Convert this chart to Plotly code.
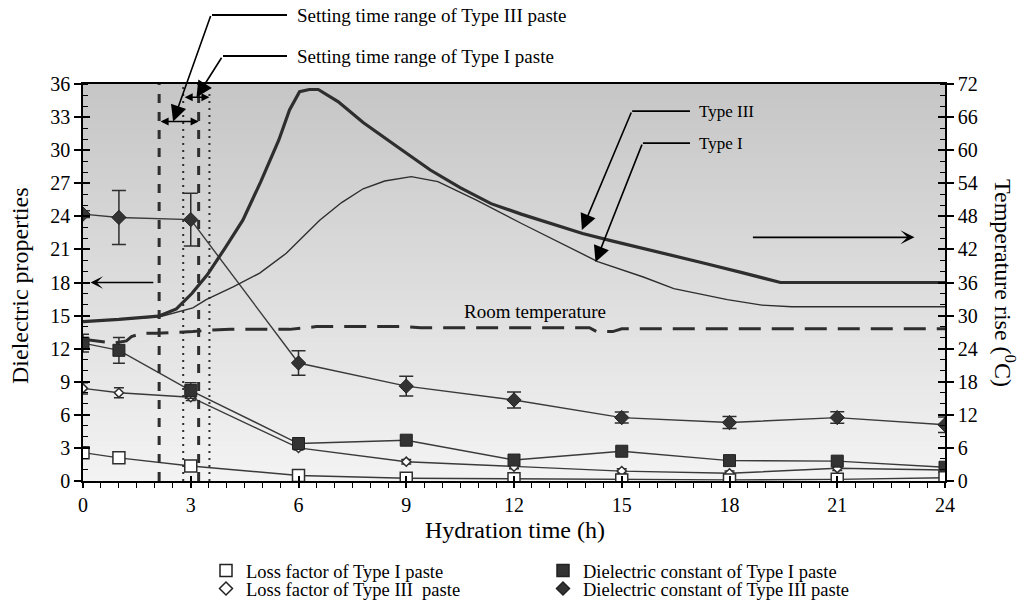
import plotly.graph_objects as go

# ---- measured dielectric properties (left axis) ----
hours = [0, 1, 3, 6, 9, 12, 15, 18, 21, 24]

dc_type3 = [24.2, 23.9, 23.7, 10.7, 8.6, 7.35, 5.75, 5.3, 5.75, 5.1]
dc_type3_err = [0.3, 2.45, 2.4, 1.1, 0.9, 0.72, 0.5, 0.55, 0.52, 0.7]

dc_type1 = [12.5, 11.85, 8.2, 3.4, 3.7, 1.9, 2.7, 1.85, 1.8, 1.25]
dc_type1_err = [0.8, 1.17, 0.7, 0.3, 0.3, 0.3, 0.3, 0.3, 0.3, 0.3]

lf_type3 = [8.4, 8.0, 7.6, 3.0, 1.75, 1.3, 0.9, 0.7, 1.15, 1.0]
lf_type3_err = [0.5, 0.45, 0.3, 0.2, 0.2, 0.2, 0.2, 0.2, 0.2, 0.2]

lf_type1 = [2.57, 2.1, 1.36, 0.5, 0.25, 0.2, 0.1, 0.1, 0.15, 0.3]
lf_type1_err = [0.2, 0.2, 0.2, 0.15, 0.15, 0.15, 0.15, 0.15, 0.15, 0.15]

# ---- temperature rise curves (right axis) ----
temp_hours_type3 = [0, 1, 2.1, 2.6, 3.03, 3.46, 3.95, 4.45, 4.95, 5.45, 5.75, 6.03,
                    6.3, 6.55, 7.1, 7.8, 8.82, 9.67, 10.5, 11.36, 12.2, 13.06, 13.91,
                    14.75, 15.6, 16.45, 17.3, 18.35, 19.42, 24]
temp_type3 = [28.9, 29.3, 29.9, 31.2, 34.0, 37.4, 42.2, 47.3, 54.3, 61.8, 67.3, 70.6,
              71.0, 71.0, 68.8, 65.0, 60.3, 56.4, 53.2, 50.3, 48.4, 46.7, 44.9,
              43.5, 42.2, 40.8, 39.5, 37.8, 36.0, 36.0]

temp_hours_type1 = [0, 1, 2.14, 3.06, 3.43, 4.18, 4.92, 5.66, 6.59, 7.2, 7.8, 8.4,
                    8.82, 9.14, 9.88, 10.94, 12.21, 13.48, 14.33, 15.6, 16.45, 17.94,
                    18.9, 19.73, 24]
temp_type1 = [28.9, 29.3, 29.8, 31.4, 32.9, 35.2, 37.7, 41.3, 47.3, 50.5, 53.0, 54.4,
              54.9, 55.2, 54.3, 51.0, 46.7, 42.5, 39.8, 37.0, 34.9, 32.9,
              31.9, 31.6, 31.6]

room_hours = [0, 0.56, 0.84, 1.21, 1.35, 1.67, 2.04, 2.69, 3.06, 3.62, 4.1, 5.75,
              6.12, 6.5, 9.0, 9.4, 14.1, 14.3, 14.75, 15.0, 24]
room_temp = [25.7, 25.3, 25.0, 25.4, 26.2, 26.8, 26.8, 27.0, 27.1, 27.4, 27.5, 27.5,
             27.7, 28.0, 28.0, 27.8, 27.8, 27.1, 27.1, 27.6, 27.6]

# ---- setting time ranges (h) and where their arrows sit (left-axis units) ----
setting_type3 = [2.12, 3.22]
setting_type1 = [2.79, 3.52]
setting_type3_level = 32.6
setting_type1_level = 34.8

x_ticks = [0, 3, 6, 9, 12, 15, 18, 21, 24]
left_ticks = [0, 3, 6, 9, 12, 15, 18, 21, 24, 27, 30, 33, 36]
right_ticks = [0, 6, 12, 18, 24, 30, 36, 42, 48, 54, 60, 66, 72]

FONT = "Liberation Serif"
INK = "#2e2e2e"
LINE = "#3a3a3a"
W, H = 1024, 606
ML, MR, MT, MB = 83, 79, 84, 125
PW, PH = W - ML - MR, H - MT - MB

fig = go.Figure()

# temperature curves
fig.add_trace(go.Scatter(x=room_hours, y=room_temp, yaxis="y2", mode="lines",
                         line=dict(color=INK, width=3, dash="22px,11px"),
                         showlegend=False, hoverinfo="skip"))
fig.add_trace(go.Scatter(x=temp_hours_type1, y=temp_type1, yaxis="y2", mode="lines",
                         line=dict(color=INK, width=1.4), showlegend=False))
fig.add_trace(go.Scatter(x=temp_hours_type3, y=temp_type3, yaxis="y2", mode="lines",
                         line=dict(color=INK, width=3.2), showlegend=False))


def err(arr, w):
    return dict(type="data", array=arr, visible=True, color=INK, thickness=1.5, width=w)


fig.add_trace(go.Scatter(
    x=hours, y=lf_type3, mode="lines+markers", showlegend=False,
    line=dict(color=LINE, width=1.4),
    marker=dict(symbol="diamond", size=7, color="white", line=dict(color=INK, width=1.5)),
    error_y=err(lf_type3_err, 5)))
fig.add_trace(go.Scatter(
    x=hours, y=dc_type1, mode="lines+markers", showlegend=False,
    line=dict(color=LINE, width=1.4),
    marker=dict(symbol="square", size=12, color="#333333", line=dict(color="#222", width=1)),
    error_y=err(dc_type1_err, 6)))
fig.add_trace(go.Scatter(
    x=hours, y=dc_type3, mode="lines+markers", showlegend=False,
    line=dict(color=LINE, width=1.4),
    marker=dict(symbol="diamond", size=11, color="#333333", line=dict(color="#222", width=1)),
    error_y=err(dc_type3_err, 7)))
fig.add_trace(go.Scatter(
    x=hours, y=lf_type1, mode="lines+markers", showlegend=False,
    line=dict(color=LINE, width=1.4),
    marker=dict(symbol="square", size=12, color="white", line=dict(color=INK, width=1.5)),
    error_y=err(lf_type1_err, 5)))

# legend entries: two rows, each its own horizontal legend
legend_items = [
    ("Loss factor of Type I paste", "square", "white", 12, "legend"),
    ("Dielectric constant of Type I paste", "square", "#333333", 12, "legend"),
    ("Loss factor of Type III  paste", "diamond", "white", 10, "legend2"),
    ("Dielectric constant of Type III paste", "diamond", "#333333", 10, "legend2"),
]
for name, sym, col, sz, lg in legend_items:
    fig.add_trace(go.Scatter(x=[None], y=[None], mode="markers", name=name, legend=lg,
                             marker=dict(symbol=sym, size=sz, color=col,
                                         line=dict(color="#222", width=1.5))))

# background gradient bands
shapes = []
n_bands = 80
top_rgb, bot_rgb = (198, 198, 198), (243, 243, 243)
for i in range(n_bands):
    t = i / (n_bands - 1)
    c = [round(bot_rgb[k] + (top_rgb[k] - bot_rgb[k]) * t) for k in range(3)]
    shapes.append(dict(type="rect", xref="x domain", yref="y domain",
                       x0=0, x1=1, y0=i / n_bands, y1=(i + 1) / n_bands + 0.002,
                       fillcolor=f"rgb({c[0]},{c[1]},{c[2]})", line=dict(width=0),
                       layer="below"))

# setting-time boundaries
for xv in setting_type3:
    shapes.append(dict(type="line", xref="x", yref="y", x0=xv, x1=xv, y0=0, y1=36,
                       line=dict(color=INK, width=3, dash="9px,9px")))
for xv in setting_type1:
    shapes.append(dict(type="line", xref="x", yref="y", x0=xv, x1=xv, y0=0, y1=36,
                       line=dict(color=INK, width=2, dash="2px,5px")))


def px_x(p):
    return (p - ML) / PW


def px_y(p):
    return (H - MB - p) / PH


shapes += [
    dict(type="line", xref="paper", yref="paper", x0=px_x(212), x1=px_x(287),
         y0=px_y(15), y1=px_y(15), line=dict(color="black", width=1.8)),
    dict(type="line", xref="paper", yref="paper", x0=px_x(223), x1=px_x(287),
         y0=px_y(56), y1=px_y(56), line=dict(color="black", width=1.8)),
    dict(type="line", xref="x", yref="y", x0=15.29, x1=16.9, y0=33.54, y1=33.54,
         line=dict(color="black", width=1.8)),
    dict(type="line", xref="x", yref="y", x0=15.59, x1=16.9, y0=30.64, y1=30.64,
         line=dict(color="black", width=1.8)),
]

txt = dict(family=FONT, size=19, color="black")
small = dict(family=FONT, size=17, color="black")
big = dict(family=FONT, size=24, color="black")
arrow = dict(showarrow=True, arrowcolor="black", standoff=0, text="")
annotations = [
    # setting ranges as double arrows
    dict(x=setting_type3[1], y=setting_type3_level, ax=setting_type3[0], ay=setting_type3_level,
         xref="x", yref="y", axref="x", ayref="y", arrowhead=2, arrowside="end+start",
         arrowsize=1, arrowwidth=1.6, startarrowhead=2, startarrowsize=1, startstandoff=0, **arrow),
    dict(x=setting_type1[1], y=setting_type1_level, ax=setting_type1[0], ay=setting_type1_level,
         xref="x", yref="y", axref="x", ayref="y", arrowhead=2, arrowside="end+start",
         arrowsize=1, arrowwidth=1.6, startarrowhead=2, startarrowsize=1, startstandoff=0, **arrow),
    # leaders to setting ranges
    dict(x=2.51, y=setting_type3_level, xref="x", yref="y", ax=38, ay=-107,
         arrowhead=2, arrowsize=2, arrowwidth=1.6, **arrow),
    dict(x=3.16, y=setting_type1_level, xref="x", yref="y", ax=26, ay=-41,
         arrowhead=2, arrowsize=2, arrowwidth=1.6, **arrow),
    dict(x=px_x(295), y=px_y(15), xref="paper", yref="paper", xanchor="left", yanchor="middle",
         text="Setting time range of Type III paste", showarrow=False, font=txt),
    dict(x=px_x(295), y=px_y(56), xref="paper", yref="paper", xanchor="left", yanchor="middle",
         text="Setting time range of Type I paste", showarrow=False, font=txt),
    # curve labels
    dict(x=13.89, y=22.76, xref="x", yref="y", ax=50, ay=-119,
         arrowhead=2, arrowsize=2, arrowwidth=1.6, **arrow),
    dict(x=14.27, y=19.85, xref="x", yref="y", ax=47, ay=-119,
         arrowhead=2, arrowsize=2, arrowwidth=1.6, **arrow),
    dict(x=17.09, y=33.54, xref="x", yref="y", xanchor="left", yanchor="middle",
         text="Type III", showarrow=False, font=small),
    dict(x=17.09, y=30.64, xref="x", yref="y", xanchor="left", yanchor="middle",
         text="Type I", showarrow=False, font=small),
    dict(x=10.54, y=15.4, xref="x", yref="y", xanchor="left", yanchor="middle",
         text="Room temperature", showarrow=False, font=txt),
    # axis direction arrows
    dict(x=0.21, y=18, ax=2.0, ay=18, xref="x", yref="y", axref="x", ayref="y",
         arrowhead=3, arrowsize=1.3, arrowwidth=1.6, **arrow),
    dict(x=23.15, y=22.1, ax=18.61, ay=22.1, xref="x", yref="y", axref="x", ayref="y",
         arrowhead=3, arrowsize=1.3, arrowwidth=1.8, **arrow),
    # axis titles
    dict(x=px_x(20), y=px_y(286), xref="paper", yref="paper", text="Dielectric properties",
         xanchor="center", yanchor="middle", textangle=-90, showarrow=False, font=big),
    dict(x=px_x(1005), y=px_y(283), xref="paper", yref="paper",
         text="Temperature rise (<sup>0</sup>C)", xanchor="center", yanchor="middle",
         textangle=90, showarrow=False, font=big),
    dict(x=px_x(515), y=px_y(530), xref="paper", yref="paper", text="Hydration time (h)",
         xanchor="center", yanchor="middle", showarrow=False, font=big),
]

tickfont = dict(family=FONT, size=20, color="black")
legend_common = dict(orientation="h", xref="container", yref="container",
                     xanchor="left", yanchor="top", entrywidth=292,
                     font=dict(family=FONT, size=18.5, color="black"),
                     bgcolor="rgba(0,0,0,0)", itemsizing="trace")
fig.update_layout(
    width=W, height=H,
    margin=dict(l=ML, r=MR, t=MT, b=MB, autoexpand=False),
    paper_bgcolor="white", plot_bgcolor="rgb(243,243,243)",
    shapes=shapes, annotations=annotations,
    xaxis=dict(range=[0, 24], tickvals=x_ticks, ticks="outside", ticklen=5, tickwidth=1.5,
               tickcolor="black", showline=True, linecolor="black", linewidth=1.5,
               mirror=True, showgrid=False, zeroline=False, tickfont=tickfont,
               minor=dict(dtick=0.5, ticks="outside", ticklen=5, tickwidth=1.2, tickcolor="black")),
    xaxis2=dict(range=[0, 24], tickvals=x_ticks, overlaying="x", side="bottom",
                ticks="inside", ticklen=5, tickwidth=1.5, tickcolor="black",
                showticklabels=False, showgrid=False, zeroline=False, showline=False),
    yaxis=dict(range=[0, 36], tickvals=left_ticks, ticks="outside", ticklen=7, tickwidth=1.5,
               tickcolor="black", showline=True, linecolor="black", linewidth=1.5,
               showgrid=False, zeroline=False, tickfont=tickfont,
               minor=dict(dtick=1, ticks="inside", ticklen=5, tickwidth=1.2, tickcolor="black")),
    yaxis2=dict(range=[0, 72], tickvals=right_ticks, overlaying="y", side="right",
                ticks="outside", ticklen=7, tickwidth=1.5, tickcolor="black",
                showline=True, linecolor="black", linewidth=1.5, showgrid=False,
                zeroline=False, tickfont=tickfont,
                minor=dict(dtick=2, ticks="inside", ticklen=5, tickwidth=1.2, tickcolor="black")),
    yaxis3=dict(range=[0, 36], tickvals=left_ticks, overlaying="y", side="left",
                ticks="inside", ticklen=7, tickwidth=1.5, tickcolor="black",
                showticklabels=False, showgrid=False, zeroline=False, showline=False),
    yaxis4=dict(range=[0, 72], tickvals=right_ticks, overlaying="y", side="right",
                ticks="inside", ticklen=7, tickwidth=1.5, tickcolor="black",
                showticklabels=False, showgrid=False, zeroline=False, showline=False),
    legend=dict(x=206 / W, y=(H - 552) / H, **legend_common),
    legend2=dict(x=206 / W, y=(H - 570) / H, **legend_common),
)

# invisible carriers so the extra tick axes are drawn
fig.add_trace(go.Scatter(x=[None], y=[None], yaxis="y3", showlegend=False))
fig.add_trace(go.Scatter(x=[None], y=[None], yaxis="y4", showlegend=False))
fig.add_trace(go.Scatter(x=[None], y=[None], xaxis="x2", showlegend=False))

fig.write_html("out.html")
